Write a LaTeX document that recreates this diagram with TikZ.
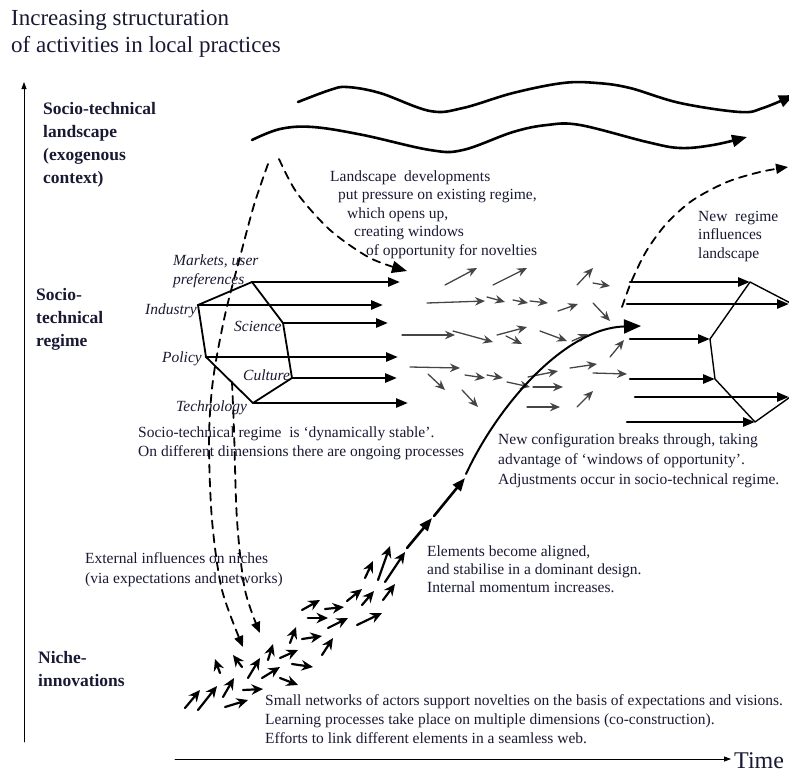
\documentclass[tikz,border=0pt]{standalone}
\usepackage{fontspec}
\setmainfont{Liberation Serif}
\usepackage{tikz}
\usetikzlibrary{arrows.meta}
\definecolor{qqqqtt}{rgb}{0.1,0.1,0.2}
\definecolor{sqsqsq}{rgb}{0.27,0.27,0.27}
\begin{document}
\begin{tikzpicture}[line cap=round,line join=round,x=1pt,y=-1pt,
  txt/.style={inner sep=0pt,anchor=base west,align=left,text=qqqqtt,font=\fontsize{15.5}{18.8}\selectfont},
  lvl/.style={inner sep=0pt,anchor=base west,align=left,text=qqqqtt,font=\fontsize{17.5}{22.7}\selectfont\bfseries},
  dim/.style={inner sep=0pt,anchor=base west,align=left,text=qqqqtt,font=\fontsize{15.5}{19}\selectfont\itshape},
  wave/.style={line width=2.6pt,-{Triangle[length=15pt,width=12pt]}},
  dsh/.style={line width=1.8pt,dash pattern=on 8pt off 6pt,-{Triangle[length=11pt,width=9pt]}},
  fat/.style={line width=2.6pt,-{Triangle[length=12pt,width=9pt]}},
  grr/.style={sqsqsq,line width=1.3pt,-{Stealth[length=10pt,width=8.5pt]}},
  nic/.style={line width=2.2pt,-{Stealth[length=11.5pt,width=10.5pt]}}]
\useasboundingbox (0,0) rectangle (789,772);
\clip(0,0) rectangle (789,772);
% axes
\draw[line width=0.8pt,-{Triangle[length=7pt,width=5pt]}] (24,742) -- (24,82);
\draw[line width=0.8pt,-{Triangle[length=7pt,width=5pt]}] (175,759) -- (731,759);
% multi-line nodes sit on the baseline of their last line
\node[txt,font=\fontsize{23}{27}\selectfont] (ttl) at (11,52) {Increasing structuration\\of activities in local practices};
\node[txt,font=\fontsize{24}{28}\selectfont] (time) at (734,768) {Time};
\node[lvl] (land) at (43,183) {Socio-technical\\landscape\\(exogenous\\context)};
\node[lvl] (regm) at (36,346) {Socio-\\technical\\regime};
\node[lvl] (nich) at (38,686) {Niche-\\innovations};
% landscape
\draw[wave] plot[smooth,tension=0.6] coordinates {(298,102) (330,90) (347,87) (380,93) (430,111) (463,108) (513,93) (563,83) (597,83) (630,88) (680,103) (740,112) (763,108) (794,95)};
\draw[wave] plot[smooth,tension=0.6] coordinates {(252,140) (280,129) (313,127) (363,135) (430,150) (463,150) (513,132) (547,125) (580,125) (647,142) (680,148) (713,145) (747,137)};
% dashed influences
\draw[dsh] plot[smooth] coordinates {(268,164) (254,205) (240,257) (225,315) (213,380) (209,440) (212,520) (222,590) (243,647)};
\draw[dsh] plot[smooth] coordinates {(232,382) (234,430) (237,520) (245,590) (260,633)};
\draw[dsh,-{Triangle[length=15pt,width=12pt]}] plot[smooth] coordinates {(279,159) (297,193) (330,230) (370,258) (407,271)};
\draw[dsh,-{Triangle[length=12pt,width=10pt]}] plot[smooth] coordinates {(622,307) (632,280) (647,250) (667,223) (693,200) (727,182) (760,172) (788,167)};
% old regime
\coordinate (mk) at (252,282);
\coordinate (in) at (198,305);
\coordinate (sc) at (283,323);
\coordinate (po) at (206,357);
\coordinate (cu) at (292,378);
\coordinate (te) at (253,403);
\draw[line width=1.8pt] (mk) -- (sc) -- (cu) -- (te) -- (po) -- (in) -- cycle;
\draw[fat] (mk) -- (400,282);
\draw[fat] (in) -- (383,305);
\draw[fat] (sc) -- (388,323);
\draw[fat] (po) -- (398,357);
\draw[fat] (cu) -- (397,378);
\draw[fat] (te) -- (408,403);
\node[dim] (mkt) at (173,284) {Markets, user\\preferences};
\node[dim,anchor=base east] (ind) at (197,314) {Industry};
\node[dim] (sci) at (234,331) {Science};
\node[dim,anchor=base east] (pol) at (202,362) {Policy};
\node[dim] (cul) at (243,380) {Culture};
\node[dim] (tec) at (176,411) {Technology};
% new regime
\coordinate (nt) at (750,282);
\coordinate (nr) at (800,308);
\coordinate (nl) at (710,339);
\coordinate (nm) at (715,379);
\coordinate (nb) at (755,422);
\coordinate (nq) at (800,390);
\draw[line width=1.4pt] (nr) -- (nt) -- (nl) -- (nm) -- (nb) -- (nq);
\draw[fat] (630,282) -- (nt);
\draw[fat] (627,304) -- (789,304);
\draw[fat] (630,339) -- (nl);
\draw[fat] (630,379) -- (nm);
\draw[fat] (635,397) -- (789,397);
\draw[fat] (627,422) -- (nb);
% regime dynamics
\draw[grr] (445,285) -- (477,268);
\draw[grr] (493,285) -- (527,268);
\draw[grr] (577,285) -- (593,268);
\draw[grr] (593,283) -- (610,286);
\draw[grr] (427,303) -- (485,301);
\draw[grr] (487,297) -- (505,302);
\draw[grr] (513,300) -- (528,303);
\draw[grr] (530,301) -- (548,303);
\draw[grr] (558,311) -- (578,304);
\draw[grr] (593,303) -- (610,321);
\draw[grr] (402,335) -- (455,335);
\draw[grr] (453,331) -- (493,342);
\draw[grr] (497,335) -- (527,327);
\draw[grr] (506,336) -- (522,344);
\draw[grr] (540,331) -- (567,341);
\draw[grr] (572,341) -- (588,334);
\draw[grr] (610,357) -- (624,340);
\draw[grr] (410,367) -- (460,368);
\draw[grr] (428,374) -- (445,390);
\draw[grr] (465,375) -- (485,378);
\draw[grr] (487,375) -- (503,378);
\draw[grr] (507,382) -- (530,387);
\draw[grr] (528,377) -- (558,371);
\draw[grr] (533,387) -- (563,387);
\draw[grr] (570,368) -- (597,364);
\draw[grr] (593,373) -- (627,374);
\draw[grr] (462,390) -- (478,407);
\draw[grr] (527,407) -- (560,407);
\draw[grr] (577,407) -- (593,391);
% niches
\draw[nic] (185,708) -- (200,690);
\draw[nic] (198,710) -- (217,686);
\draw[nic] (223,697) -- (234,678);
\draw[nic] (225,707) -- (248,700);
\draw[nic] (243,690) -- (263,689);
\draw[nic] (220,673) -- (215,659);
\draw[nic] (242,667) -- (233,655);
\draw[nic] (248,678) -- (260,658);
\draw[nic] (262,678) -- (280,667);
\draw[nic] (268,660) -- (273,644);
\draw[nic] (280,678) -- (298,685);
\draw[nic] (280,658) -- (298,650);
\draw[nic] (292,664) -- (313,667);
\draw[nic] (290,643) -- (296,627);
\draw[nic] (302,639) -- (322,636);
\draw[nic] (322,655) -- (333,638);
\draw[nic] (302,610) -- (320,600);
\draw[nic,line width=2.8pt] (308,618) -- (328,618);
\draw[nic] (325,609) -- (344,607);
\draw[nic] (328,628) -- (348,618);
\draw[nic] (347,601) -- (362,589);
\draw[nic] (357,625) -- (382,613);
\draw[nic] (362,605) -- (374,591);
\draw[nic] (365,578) -- (373,561);
\draw[nic] (378,580) -- (390,546);
\draw[nic] (383,600) -- (395,584);
\draw[nic] (385,582) -- (405,552);
% breakthrough
\draw[line width=2.6pt,-{Triangle[length=13pt,width=10pt]}] (407,548) -- (432,518);
\draw[line width=2.6pt,-{Triangle[length=13pt,width=10pt]}] (434,516) -- (465,478);
\draw[line width=2pt,-{Triangle[length=17pt,width=14pt]}] (466,474) .. controls (498,405) and (565,328) .. (641,326);
% texts
\node[txt,font=\fontsize{15.5}{18.5}\selectfont] (press) at (330,255) {Landscape\ \ developments\\\hspace*{8pt}put pressure on existing regime,\\\hspace*{17pt}which opens up,\\\hspace*{24pt}creating windows\\\hspace*{36pt}of opportunity for novelties};
\node[txt,font=\fontsize{15.5}{18.5}\selectfont] (infl) at (698,258) {New\ \ regime\\influences\\landscape};
\node[txt] (stab) at (138,456) {Socio-technical regime\ \ is `dynamically stable'.\\On different dimensions there are ongoing processes};
\node[txt,font=\fontsize{15.5}{19.8}\selectfont] (brk) at (498,484) {New configuration breaks through, taking\\advantage of `windows of opportunity'.\\Adjustments occur in socio-technical regime.};
\node[txt,font=\fontsize{15.5}{18}\selectfont] (algn) at (427,592) {Elements become aligned,\\and stabilise in a dominant design.\\Internal momentum increases.};
\node[txt,font=\fontsize{15.5}{19.5}\selectfont] (ext) at (85,583) {External influences on niches\\(via expectations and networks)};
\node[txt] (small) at (265,743) {Small networks of actors support novelties on the basis of expectations and visions.\\Learning processes take place on multiple dimensions (co-construction).\\Efforts to link different elements in a seamless web.};
\end{tikzpicture}
\end{document}
